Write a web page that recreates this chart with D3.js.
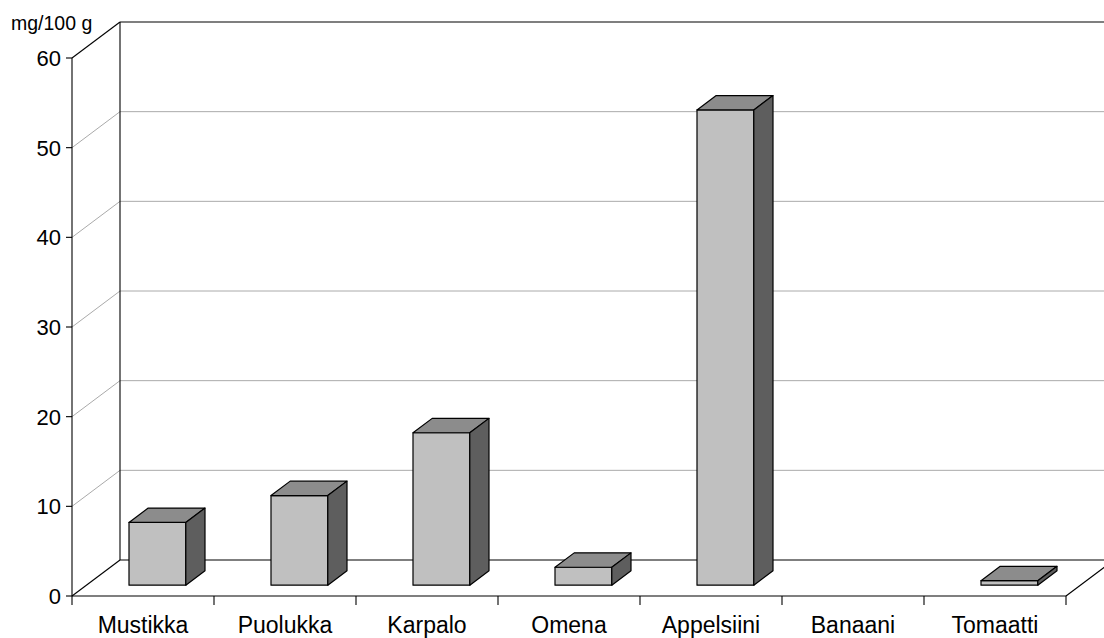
<!DOCTYPE html>
<html>
<head>
<meta charset="utf-8">
<script src="https://cdn.jsdelivr.net/npm/d3@7"></script>
<style>
  html, body { margin: 0; padding: 0; background: #fff; }
  svg { display: block; }
  text { font-family: "Liberation Sans", Arial, sans-serif; fill: #000; }
</style>
</head>
<body>
<svg id="chart" width="1104" height="638"></svg>
<script>
// C-vitamiinipitoisuus, mg/100 g
const categories = ["Mustikka", "Puolukka", "Karpalo", "Omena", "Appelsiini", "Banaani", "Tomaatti"];
const values = [7, 10, 17, 2, 53, 0, 0.5];
const yTicks = [0, 10, 20, 30, 40, 50, 60];
const unitLabel = "mg/100 g";

(function () {
const svg = d3.select("#chart");
const W = 1104;

// Front plane of the 3D plot area
const plotLeft = 72, plotRight = 1066, plotBottom = 596, plotTop = 58;
// Full depth offset of the plot box (back wall relative to the front plane)
const DX = 48, DY = -36;
// Bars sit between these fractions of the depth
const zFront = 0.3, zBack = 0.7;

const x = d3.scaleBand().domain(categories).range([plotLeft, plotRight]).paddingInner(0.6).paddingOuter(0.3);
const xStep = d3.scaleBand().domain(categories).range([plotLeft, plotRight]);
const y = d3.scaleLinear().domain([0, 60]).range([plotBottom, plotTop]);

const gridColor = "#aaaaaa";

// Back wall gridlines
const g = svg.append("g");
yTicks.filter(v => v > 0 && v < 60).forEach(v => {
  g.append("line")
    .attr("x1", plotLeft + DX).attr("x2", W + 20)
    .attr("y1", y(v) + DY).attr("y2", y(v) + DY)
    .attr("stroke", gridColor).attr("stroke-width", 1);
  // side wall lines
  g.append("line")
    .attr("x1", plotLeft).attr("y1", y(v))
    .attr("x2", plotLeft + DX).attr("y2", y(v) + DY)
    .attr("stroke", gridColor).attr("stroke-width", 1);
});

// Walls and floor outline
const edge = (x1, y1, x2, y2) => g.append("line")
  .attr("x1", x1).attr("y1", y1).attr("x2", x2).attr("y2", y2)
  .attr("stroke", "#000").attr("stroke-width", 1.1);

edge(plotLeft + DX, y(60) + DY, W + 20, y(60) + DY);         // back wall top
edge(plotLeft, y(60), plotLeft + DX, y(60) + DY);            // side wall top
edge(plotLeft + DX, y(60) + DY, plotLeft + DX, y(0) + DY);   // back wall corner
edge(plotLeft + DX, y(0) + DY, W + 20, y(0) + DY);           // floor back edge
edge(plotLeft, y(0), plotLeft + DX, y(0) + DY);              // floor left edge
edge(plotRight, y(0), plotRight + DX, y(0) + DY);            // floor right edge
edge(plotLeft, y(0), plotRight, y(0));                       // floor front edge
edge(plotLeft, y(60), plotLeft, y(0));                       // value axis

// Value axis ticks and labels
yTicks.forEach(v => {
  edge(plotLeft - 6, y(v), plotLeft, y(v));
  svg.append("text")
    .attr("x", plotLeft - 11).attr("y", y(v))
    .attr("dy", "0.36em")
    .attr("text-anchor", "end")
    .attr("font-size", 22)
    .text(v);
});

// Category ticks
const bounds = categories.map(c => xStep(c)).concat([plotRight]);
bounds.forEach(bx => edge(bx, y(0), bx, y(0) + 9));

// Category labels
categories.forEach(c => {
  svg.append("text")
    .attr("x", xStep(c) + xStep.bandwidth() / 2)
    .attr("y", 633)
    .attr("text-anchor", "middle")
    .attr("font-size", 23)
    .text(c);
});

// Unit label
svg.append("text")
  .attr("x", 11).attr("y", 30)
  .attr("font-size", 19.5)
  .text(unitLabel);

// 3D bars
const bars = svg.append("g");
const pt = (px, py) => px + "," + py;
categories.forEach((c, i) => {
  const v = values[i];
  if (!(v > 0)) return;
  const bw = x.bandwidth();
  const fx = x(c) + zFront * DX, fy0 = y(0) + zFront * DY, fy1 = y(v) + zFront * DY;
  const ddx = (zBack - zFront) * DX, ddy = (zBack - zFront) * DY;
  const style = sel => sel.attr("stroke", "#000").attr("stroke-width", 1.2).attr("stroke-linejoin", "round");
  // front
  style(bars.append("polygon")
    .attr("points", [pt(fx, fy0), pt(fx + bw, fy0), pt(fx + bw, fy1), pt(fx, fy1)].join(" "))
    .attr("fill", "#c0c0c0"));
  // top
  style(bars.append("polygon")
    .attr("points", [pt(fx, fy1), pt(fx + bw, fy1), pt(fx + bw + ddx, fy1 + ddy), pt(fx + ddx, fy1 + ddy)].join(" "))
    .attr("fill", "#8c8c8c"));
  // side
  style(bars.append("polygon")
    .attr("points", [pt(fx + bw, fy0), pt(fx + bw + ddx, fy0 + ddy), pt(fx + bw + ddx, fy1 + ddy), pt(fx + bw, fy1)].join(" "))
    .attr("fill", "#5e5e5e"));
});
})();
</script>
</body>
</html>
